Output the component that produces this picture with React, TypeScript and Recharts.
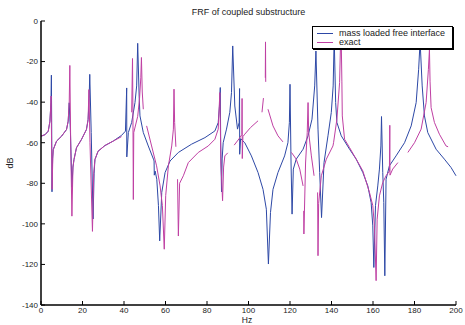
import { LineChart, Line, XAxis, YAxis, Legend } from 'recharts';

const BLUE = '#2D48A6';
const MAGENTA = '#BF3FA3';
const FONT = 'Arial, "Liberation Sans", sans-serif';

const hzTicks = [0, 20, 40, 60, 80, 100, 120, 140, 160, 180, 200];
const dbTicks = [-140, -120, -100, -80, -60, -40, -20, 0];

type Pt = [number, number | null];

// mass loaded free interface (blue)
const massLoaded: Pt[] = [
  [0, -56.8], [2, -56], [3.5, -54.3], [4.3, -49.4], [4.8, -40], [5.0, -26.7], [5.15, -50], [5.3, -84.2],
  [5.6, -68], [5.9, -63.4], [7.5, -59.2], [9.9, -56.8], [12.3, -53.5], [13.1, -49.4], [13.6, -40.3],
  [14.2, -55], [14.9, -82], [15.4, -72], [15.9, -68.3], [17.1, -62.5], [19.5, -58.4], [21.9, -53.5],
  [22.7, -48.6], [23.2, -38], [23.5, -26.3], [24.2, -55], [25.1, -97.6], [25.6, -75], [26, -68.3],
  [27.5, -64.2], [30.8, -61.4], [34.8, -59.2], [38.8, -56.4], [40.7, -54.3], [41.3, -33], [41.35, -67],
  [42.1, -55], [43.7, -50], [45.3, -40.2], [46.1, -32], [46.6, -11], [47.3, -37], [47.7, -46.8],
  [49.3, -55], [51.7, -61.6], [54.2, -68.1], [54.5, -69], [54.6, -76], [55, -74], [55.8, -78],
  [56.6, -91], [57.2, -108.4], [58.2, -84.5], [59.8, -74.7], [62.2, -69], [66.2, -64.8], [72.6, -60.7],
  [79, -57.5], [83.8, -54.2], [85.4, -50.1], [86, -42], [86.4, -32.8], [86.6, -60], [87, -84.2],
  [87.3, -68], [87.8, -60], [89.4, -53.3], [91, -45], [91.8, -35.3], [92.4, -12.3], [93.4, -41.9],
  [94.7, -53.3], [95.5, -50], [95.7, -33.3], [95.75, -65.7], [96.2, -58], [98.2, -60], [101.4, -66.5],
  [104.6, -74.7], [107, -83], [108.6, -92.8], [109.6, -119.8], [110.6, -94.4], [111.8, -83],
  [114.2, -74.7], [117.4, -66.5], [119, -60], [119.7, -50], [120, -31.2], [120.5, -70], [121, -95.2],
  [121.6, -73], [123, -68.1], [126.3, -63.2], [128.7, -56.6], [130.6, -48.4], [131.9, -32],
  [132.5, -14.8], [133.5, -53.3], [134.3, -74.7], [135.2, -96.9], [136.4, -69.8], [138.3, -56.6],
  [139.9, -45.1], [140.8, -32], [141.3, -8], [142, -40.2], [142.6, -50], [144.7, -56.6], [148.7, -63.2],
  [151.9, -68.1], [155.1, -74.7], [157.5, -81.3], [159.1, -89.5], [159.9, -101], [160.4, -121.5],
  [161.2, -91], [162.3, -81.3], [163.1, -73], [163.8, -61.6], [164.1, -47.1], [164.7, -74.7],
  [165.2, -89.5], [165.7, -125.6], [166.3, -78], [167.9, -71.4], [171.1, -66.5], [175.2, -60],
  [178.4, -51.7], [180.8, -40.2], [182, -23.8], [182.7, -10], [183.7, -32], [184.8, -46.8],
  [186.4, -55], [190.4, -63.2], [194.4, -68.1], [197.6, -72.2], [200, -76.3],
];

// exact (magenta), null = break in the plotted line
const exact: Pt[] = [
  [0, -56.8], [2, -56], [3.5, -54.3], [4.3, -49.4], [4.7, -42], [4.85, -37], [5.1, -60], [5.35, -83],
  [5.7, -67], [5.9, -63.4], [7.5, -59.2], [9.9, -56.8], [12.3, -53.5], [13.1, -49.4], [13.6, -40],
  [13.9, -21.9], [14.3, -60], [14.9, -96.2], [15.4, -72], [15.9, -68.3], [17.1, -62.5], [19.5, -58.4],
  [21.9, -53.5], [22.7, -48.6], [23.1, -33.8], [23.6, -60], [24.8, -103.7], [25.4, -75], [26, -68.3],
  [27.5, -64.2], [30.8, -61.4], [34.8, -59.2], [38.8, -57], [41, null],
  [43.7, -45], [44.1, -18.5], [44.3, -45], [44.5, -88], [44.7, -55], [46.6, -47], [47.5, -38],
  [48.1, -28], [48.4, -18], [48.8, -35], [49.3, -43.5], [50, null],
  [50.9, -51.7], [53.3, -61.6], [55.7, -71.4], [57.4, -81.3], [58.5, -91], [59.4, -112.5], [60.1, -86],
  [61.4, -71.4], [63, -61.6], [63.8, -53.3], [64.1, -33.6], [64.4, -50], [65, -62], [65.4, null],
  [65.8, -78], [66.2, -106], [66.8, -80], [68.6, -76.3], [71, -69.8], [75.8, -64.8], [80.6, -61.6],
  [83.8, -58.3], [85.4, -53.3], [86.2, -35.3], [86.7, -70], [87.5, -88.6], [88, -72], [88.6, -66.5],
  [90, -65], [91.5, null],
  [93.1, -61.2], [95.5, -58], [96.8, -56], [96.9, -38.2], [97, -67.8], [97.3, -57], [98.2, -55.8],
  [101, -52.5], [104.6, -49.2], [105.5, null],
  [106.5, -45], [107.2, -38], [107.6, null], [108.1, -28], [108.2, -10.3], [108.3, -30], [108.8, null],
  [109.4, -43.5], [111.8, -51.7], [114.2, -56.6], [116.6, -59.6], [118.5, null],
  [120.7, -64.8], [123, -68.1], [124.7, -73], [126.3, -81.3], [126.45, null],
  [126.6, -93.6], [126.7, -105], [127.5, -70], [128.3, -55], [128.7, -40.2], [129, -55], [130.3, -66.5],
  [131.6, -76.3], [132.5, null],
  [133.3, -84.5], [133.5, -115.7], [133.8, -90], [135.1, -76.3], [137.5, -68.1], [140.7, -61.6],
  [141, -60], [142.6, -48.4], [143.9, -30.4], [144.4, -9], [144.6, -3], [145, -30], [145.2, -46.8],
  [146.3, -58.3], [148.7, -62.4], [151.9, -68.1], [155.1, -73.9], [158.3, -84.5], [159.9, -91],
  [160.7, -101], [161.5, -128], [162, -97.7], [163.1, -86.2], [164.7, -79.6], [166.3, -76.3],
  [167.9, -74], [168.1, -51.4], [168.2, -76], [169.5, -73], [172, -69.8], [174, null],
  [176.8, -64.8], [180, -60], [183.2, -53.3], [185.6, -40.2], [186.7, -23.8], [187.2, -14],
  [187.5, -30], [188, -42.7], [189.6, -50], [192, -55.8], [195.2, -61.6], [196.2, -62],
];

const SERIES = [
  { name: 'mass loaded free interface', color: BLUE, points: massLoaded },
  { name: 'exact', color: MAGENTA, points: exact },
];

const toRows = (pts: Pt[]) => pts.map(([hz, db]) => ({ hz, db }));

function LegendBox() {
  return (
    <div
      style={{
        position: 'relative',
        width: 139,
        height: 21,
        border: '1px solid #000',
        boxShadow: '1px 1px 0 #000',
        background: '#fff',
        fontFamily: FONT,
        fontSize: 9,
        color: '#222',
      }}
    >
      {SERIES.map((s, i) => (
        <div
          key={s.name}
          style={{ position: 'absolute', left: 4, top: 1 + i * 9, height: 10, display: 'flex', alignItems: 'center', whiteSpace: 'nowrap' }}
        >
          <span style={{ display: 'inline-block', width: 16, borderTop: `1px solid ${s.color}`, marginRight: 6 }} />
          <span>{s.name}</span>
        </div>
      ))}
    </div>
  );
}

const tickStyle = { fontSize: 8, fill: '#222', fontFamily: FONT };

export default function App() {
  return (
    <div style={{ position: 'absolute', left: 0, top: 0, width: 465, height: 325, background: '#fff', fontFamily: FONT }}>
      <div style={{ position: 'absolute', left: 41, width: 415, top: 7, textAlign: 'center', fontSize: 9, lineHeight: '10px', color: '#222' }}>
        FRF of coupled substructure
      </div>
      <div style={{ position: 'absolute', left: 10, top: 163, fontSize: 9, color: '#222', transform: 'translate(-50%, -50%) rotate(-90deg)' }}>
        dB
      </div>
      <div style={{ position: 'absolute', left: 237, width: 20, textAlign: 'center', top: 316, fontSize: 8.5, lineHeight: '9px', color: '#222' }}>
        Hz
      </div>
      <LineChart width={465} height={325} margin={{ top: 21, right: 9, bottom: 0, left: 0 }}>
        <XAxis
          dataKey="hz"
          type="number"
          domain={[0, 200]}
          ticks={hzTicks}
          height={20}
          tickSize={-4}
          tickMargin={6}
          tick={tickStyle}
          axisLine={{ stroke: '#000', strokeWidth: 1.5 }}
          tickLine={{ stroke: '#000' }}
        />
        <XAxis
          xAxisId="top"
          orientation="top"
          type="number"
          domain={[0, 200]}
          ticks={hzTicks}
          height={0}
          tickSize={-4}
          tick={false}
          axisLine={{ stroke: '#000', strokeWidth: 1.5 }}
          tickLine={{ stroke: '#000' }}
        />
        <YAxis
          type="number"
          domain={[-140, 0]}
          ticks={dbTicks}
          width={41}
          tickSize={-4}
          tickMargin={7}
          tick={tickStyle}
          axisLine={{ stroke: '#000', strokeWidth: 1.5 }}
          tickLine={{ stroke: '#000' }}
        />
        <YAxis
          yAxisId="right"
          orientation="right"
          type="number"
          domain={[-140, 0]}
          ticks={dbTicks}
          width={0}
          tickSize={-4}
          tick={false}
          axisLine={{ stroke: '#000', strokeWidth: 1.5 }}
          tickLine={{ stroke: '#000' }}
        />
        {SERIES.map((s) => (
          <Line
            key={s.name}
            name={s.name}
            data={toRows(s.points)}
            dataKey="db"
            type="linear"
            stroke={s.color}
            strokeWidth={1}
            dot={false}
            activeDot={false}
            connectNulls={false}
            isAnimationActive={false}
          />
        ))}
        <Legend
          layout="horizontal"
          verticalAlign="middle"
          align="center"
          wrapperStyle={{ left: 312, top: 26, width: 141, height: 23 }}
          content={() => <LegendBox />}
        />
      </LineChart>
    </div>
  );
}
